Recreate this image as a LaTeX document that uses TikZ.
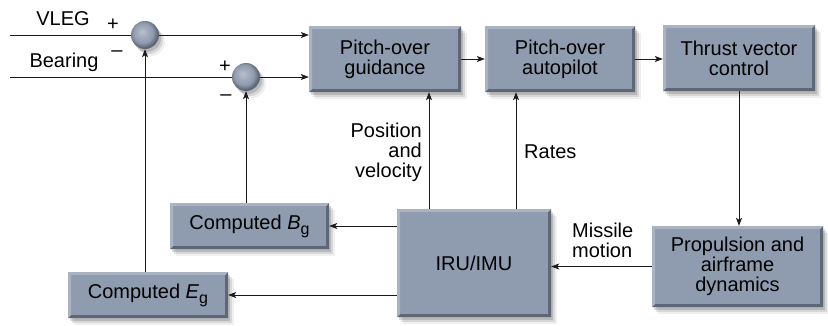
\documentclass[tikz,border=0pt]{standalone}
\usepackage{fontspec}
\setmainfont{Liberation Sans}
\usetikzlibrary{arrows.meta,shadows,calc}
\definecolor{boxfill}{HTML}{8F9BAE}
\definecolor{boxdark}{HTML}{5E6776}
\definecolor{boxlight}{HTML}{A9B3C2}
\definecolor{balltop}{HTML}{B8C1CE}
\definecolor{ballrim}{HTML}{5F6878}
\definecolor{inkline}{HTML}{1A1A1A}
\pgfdeclareradialshading{sumball}{\pgfpoint{-6bp}{6bp}}{%
  color(0bp)=(balltop); color(10bp)=(boxfill!85!white); color(18bp)=(boxfill);
  color(25bp)=(ballrim); color(50bp)=(ballrim)}
\tikzset{
  softshadow/.style={
    drop shadow={shadow xshift=2pt,shadow yshift=-3pt,opacity=.14,fill=black},
    drop shadow={shadow xshift=4pt,shadow yshift=-5pt,opacity=.10,fill=black},
    drop shadow={shadow xshift=6pt,shadow yshift=-7pt,opacity=.06,fill=black}},
  blockbox/.style={rectangle, fill=boxfill, inner sep=0pt, align=center,
    softshadow,
    font=\fontsize{20}{20}\selectfont,
    path picture={
      \fill[boxdark] (path picture bounding box.north east)
        -- (path picture bounding box.south east)
        -- (path picture bounding box.south west)
        -- ([shift={(3pt,3pt)}]path picture bounding box.south west)
        -- ([shift={(-3pt,3pt)}]path picture bounding box.south east)
        -- ([shift={(-3pt,-3pt)}]path picture bounding box.north east) -- cycle;
      \fill[boxlight] (path picture bounding box.south west)
        -- (path picture bounding box.north west)
        -- (path picture bounding box.north east)
        -- ([shift={(-3pt,-3pt)}]path picture bounding box.north east)
        -- ([shift={(3pt,-3pt)}]path picture bounding box.north west)
        -- ([shift={(3pt,3pt)}]path picture bounding box.south west) -- cycle;
    }},
  sumnode/.style={circle, minimum size=28pt, inner sep=0pt,
    shading=sumball, softshadow},
  lbl/.style={font=\fontsize{20}{20}\selectfont, inner sep=0pt},
  arr/.style={draw=inkline, line width=0.8pt,
    -{Stealth[length=8pt,width=6pt,inset=2pt]}},
  wire/.style={draw=inkline, line width=0.8pt}
}
\newcommand{\subg}{\raisebox{-5pt}{\fontsize{16}{16}\selectfont g}}
\begin{document}
\begin{tikzpicture}[x=1pt,y=-1pt]
\useasboundingbox[fill=white] (0,0) rectangle (828,325);

% blocks
\node[blockbox, minimum width=152pt, minimum height=66pt] (guid) at (385,59) {Pitch-over\\guidance};
\node[blockbox, minimum width=150pt, minimum height=66pt] (auto) at (560,59) {Pitch-over\\autopilot};
\node[blockbox, minimum width=152pt, minimum height=66pt] (thrust) at (739,58) {Thrust vector\\control};
\node[blockbox, minimum width=171pt, minimum height=81pt] (prop) at (737.5,266.5) {Propulsion and\\airframe\\dynamics};
\node[blockbox, minimum width=154pt, minimum height=108pt] (iru) at (474,263) {IRU/IMU};
\node[blockbox, minimum width=159pt, minimum height=46pt] (bg) at (249.5,226) {Computed \textit{B}\subg};
\node[blockbox, minimum width=160pt, minimum height=46pt] (eg) at (148,295) {Computed \textit{E}\subg};

% summing junctions
\node[sumnode] (s1) at (145,35) {};
\node[sumnode] (s2) at (246,77) {};

% inputs
\coordinate (vin) at (10,35);
\coordinate (bin) at (10,77);
\draw[wire] (vin) -- (s1.west);
\draw[wire] (bin) -- (s2.west);
\node[lbl] (vleg) at (63,19) {VLEG};
\node[lbl] (bear) at (64,62) {Bearing};
\node[lbl] (p1) at (113,25) {+};
\node[lbl] (m1) at (117,54) {\char"2013};
\node[lbl] (p2) at (225,67) {+};
\node[lbl] (m2) at (226,98) {\char"2013};

% forward path
\draw[arr] (s1.east) -- (s1.east -| guid.west);
\draw[arr] (s2.east) -- (s2.east -| guid.west);
\draw[arr] (guid.east) -- (auto.west);
\draw[arr] (auto.east) -- (thrust.west |- auto.east);
\draw[arr] (thrust.south) -- (thrust.south |- prop.north);
\draw[arr] (prop.west) -- (prop.west -| iru.east);

% sensor feedback
\coordinate (pvx) at (429,0);
\coordinate (rtx) at (516,0);
\draw[arr] (pvx |- iru.north) -- (pvx |- guid.south);
\draw[arr] (rtx |- iru.north) -- (rtx |- auto.south);
\draw[arr] (iru.west |- bg.east) -- (bg.east);
\draw[arr] (iru.west |- eg.east) -- (eg.east);
\draw[arr] (s2 |- bg.north) -- (s2.south);
\draw[arr] (s1 |- eg.north) -- (s1.south);

% signal labels
\node[lbl, align=right, anchor=north east] (pvl) at (422,123) {Position\\and\\velocity};
\node[lbl, anchor=west] (rtl) at (524,152) {Rates};
\node[lbl, align=left, anchor=north west] (mml) at (572,223) {Missile\\motion};
\end{tikzpicture}
\end{document}
